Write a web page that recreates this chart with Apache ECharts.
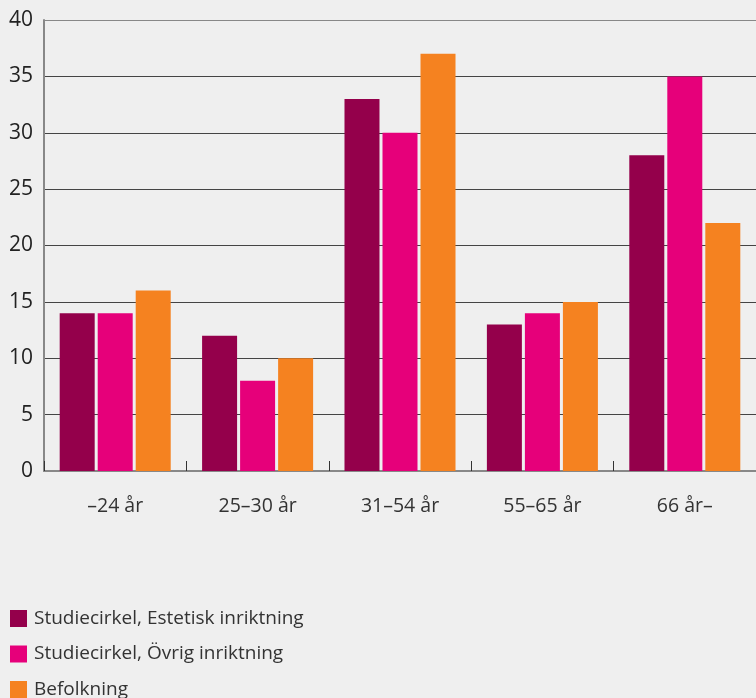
<!DOCTYPE html>
<html><head><meta charset="utf-8">
<script src="https://cdn.jsdelivr.net/npm/echarts@6/dist/echarts.min.js"></script>
<style>html,body{margin:0;padding:0;background:#efefef}#c{width:756px;height:698px}</style>
</head><body><div id="c"></div>
<script>
const categories = ['–24 år', '25–30 år', '31–54 år', '55–65 år', '66 år–'];
const estetisk = [14, 12, 33, 13, 28];
const ovrig = [14, 8, 30, 14, 35];
const befolkning = [16, 10, 37, 15, 22];
const seriesNames = ['Studiecirkel, Estetisk inriktning', 'Studiecirkel, Övrig inriktning', 'Befolkning'];
const colors = ['#94004b', '#e6007a', '#f58220'];
const FONT = 'Open Sans';

const chart = echarts.init(document.getElementById('c'));
const mk = (name, data, color) => ({
  name, type: 'bar', data, barWidth: 35, barGap: '8.6%',
  itemStyle: { color }
});
chart.setOption({
  backgroundColor: '#efefef',
  animation: false,
  textStyle: { fontFamily: FONT },
  grid: { left: 44, right: -4, top: 20, bottom: 227, containLabel: false },
  legend: {
    orient: 'vertical', left: 10, top: 609, height: 100, padding: 0,
    itemWidth: 17, itemHeight: 17, itemGap: 16.5,
    icon: 'rect',
    textStyle: { fontSize: 19, color: '#333', fontFamily: FONT, lineHeight: 17, padding: [0, 0, 0, 2] },
    data: seriesNames
  },
  xAxis: {
    type: 'category', data: categories,
    axisLine: { lineStyle: { color: '#888', width: 2 } },
    axisTick: { show: true, inside: true, length: 10, lineStyle: { color: '#333', width: 1 } },
    axisLabel: { fontSize: 19.5, color: '#333', margin: 25, fontFamily: FONT }
  },
  yAxis: {
    type: 'value', min: 0, max: 40, interval: 5,
    axisLine: { show: true, lineStyle: { color: '#888', width: 2 } },
    axisTick: { show: false },
    axisLabel: { fontSize: 21, color: '#222', margin: 11, fontFamily: FONT },
    splitLine: { lineStyle: { color: ['#444','#444','#444','#444','#444','#444','#444','#444','#888'], width: 1 } }
  },
  series: [mk(seriesNames[0], estetisk, colors[0]), mk(seriesNames[1], ovrig, colors[1]), mk(seriesNames[2], befolkning, colors[2])]
});
</script></body></html>
